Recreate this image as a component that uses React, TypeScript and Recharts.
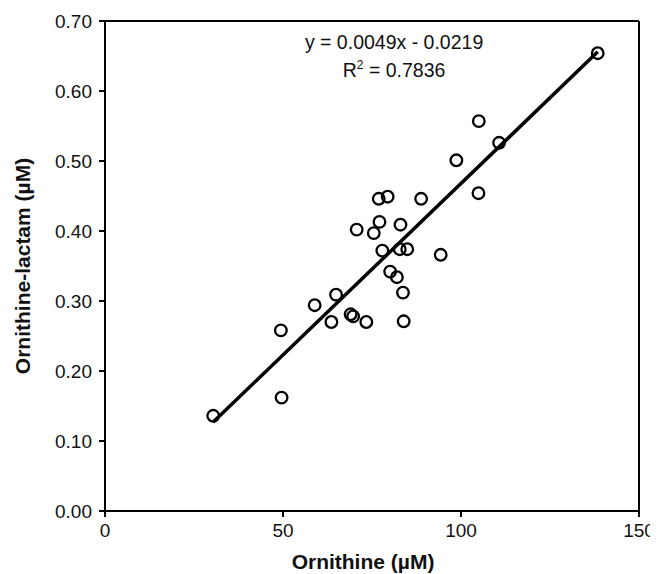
import React from "react";
import {
  ScatterChart,
  Scatter,
  XAxis,
  YAxis,
  ReferenceLine,
  ReferenceDot,
} from "recharts";

const ornithine = [
  30.4, 49.6, 49.4, 58.9, 64.9, 63.6, 69.0, 69.7, 73.4, 70.7, 75.5, 77.1, 76.9,
  79.4, 77.9, 80.1, 82.0, 83.0, 82.8, 84.9, 83.7, 83.9, 88.8, 94.3, 98.7, 104.9,
  105.0, 110.7, 138.4,
];
const lactam = [
  0.136, 0.162, 0.258, 0.294, 0.309, 0.27, 0.281, 0.278, 0.27, 0.402, 0.397,
  0.413, 0.446, 0.449, 0.372, 0.342, 0.334, 0.409, 0.374, 0.374, 0.312, 0.271,
  0.446, 0.366, 0.501, 0.454, 0.557, 0.526, 0.654,
];
const fitX = [30.4, 138.4];
const fitY = [0.127, 0.656];
const xTicks = [0, 50, 100, 150];
const yTicks = [0, 0.1, 0.2, 0.3, 0.4, 0.5, 0.6, 0.7];
const equationText = "y = 0.0049x - 0.0219";
const r2Value = "0.7836";

const points = ornithine.map((x, i) => ({ x, y: lactam[i] }));
const fitLine = fitX.map((x, i) => ({ x, y: fitY[i] }));

const FONT = '"Liberation Sans", Arial, sans-serif';

const OpenCircle = (p: any) => (
  <circle cx={p.cx} cy={p.cy} r={5.8} fill="none" stroke="#000" strokeWidth={2.3} />
);

const Equation = (p: any) => (
  <g fontFamily={FONT} fontSize={19.5} fill="#111">
    <text x={p.cx} y={p.cy} textAnchor="middle">
      {equationText}
    </text>
    <text x={p.cx} y={p.cy + 28} textAnchor="middle">
      R<tspan fontSize={12} dy={-8}>2</tspan>
      <tspan dy={8}>{" = " + r2Value}</tspan>
    </text>
  </g>
);

export default function App() {
  return (
    <ScatterChart
      width={650}
      height={566}
      margin={{ top: 13, right: 19, bottom: 0, left: 0 }}
      style={{ fontFamily: FONT }}
    >
      <XAxis
        type="number"
        dataKey="x"
        domain={[0, 150]}
        ticks={xTicks}
        height={63}
        tickSize={6}
        tickMargin={7}
        axisLine={{ stroke: "#000", strokeWidth: 2 }}
        tickLine={{ stroke: "#000", strokeWidth: 2 }}
        tick={{ fill: "#111", fontSize: 19, fontFamily: FONT }}
        label={{
          value: "Ornithine (µM)",
          position: "insideBottom",
          offset: 5,
          dx: -9,
          style: { fontSize: 21, fontWeight: "bold", fill: "#111", fontFamily: FONT },
        }}
      />
      <YAxis
        type="number"
        dataKey="y"
        domain={[0, 0.7]}
        ticks={yTicks}
        width={97}
        tickSize={6}
        tickMargin={7}
        tickFormatter={(v: number) => v.toFixed(2)}
        axisLine={{ stroke: "#000", strokeWidth: 2 }}
        tickLine={{ stroke: "#000", strokeWidth: 2 }}
        tick={{ fill: "#111", fontSize: 19, fontFamily: FONT }}
        label={{
          value: "Ornithine-lactam (µM)",
          angle: -90,
          position: "insideLeft",
          offset: 15,
          style: {
            textAnchor: "middle",
            fontSize: 21,
            fontWeight: "bold",
            fill: "#111",
            fontFamily: FONT,
          },
        }}
      />
      <ReferenceLine y={0.7} stroke="#000" strokeWidth={2} />
      <ReferenceLine x={150} stroke="#000" strokeWidth={2} />
      <Scatter
        data={fitLine}
        line={{ stroke: "#000", strokeWidth: 3.5 }}
        shape={() => null}
        isAnimationActive={false}
      />
      <Scatter data={points} shape={OpenCircle} isAnimationActive={false} />
      <ReferenceDot x={81.2} y={0.66} r={0} shape={Equation} />
    </ScatterChart>
  );
}
